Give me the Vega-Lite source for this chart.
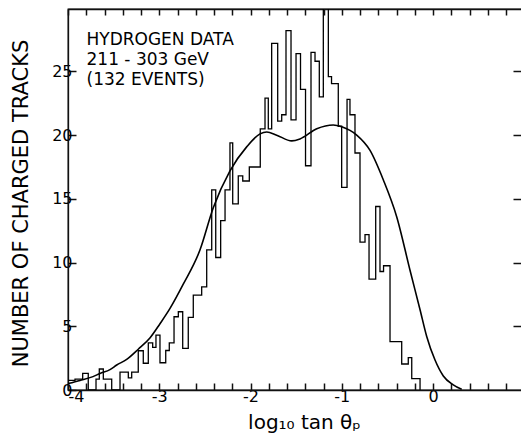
{
  "$schema": "https://vega.github.io/schema/vega-lite/v6.json",
  "width": 454,
  "height": 381,
  "autosize": {"type": "none"},
  "padding": {"left": 68, "top": 9, "right": 0, "bottom": 46},
  "config": {
    "view": {"stroke": "black", "strokeWidth": 1.3},
    "font": "DejaVu Sans",
    "axis": {"grid": false, "labelColor": "black", "titleColor": "black", "domainWidth": 1.3, "tickWidth": 1.5, "labelOverlap": false, "labelFont": "DejaVu Sans", "titleFont": "DejaVu Sans"}
  },
  "datasets": {
    "hist": [
      {"x": -4.0, "n": 0.75}, {"x": -3.923, "n": 0.85}, {"x": -3.839, "n": 1.3}, {"x": -3.778, "n": 0},
      {"x": -3.693, "n": 0.85}, {"x": -3.657, "n": 1.65}, {"x": -3.613, "n": 0.85}, {"x": -3.521, "n": 0},
      {"x": -3.43, "n": 1.4}, {"x": -3.339, "n": 0.95}, {"x": -3.302, "n": 1.4}, {"x": -3.23, "n": 3.08},
      {"x": -3.175, "n": 2.1}, {"x": -3.12, "n": 3.7}, {"x": -3.072, "n": 3.35}, {"x": -3.036, "n": 4.3},
      {"x": -2.992, "n": 2.14}, {"x": -2.929, "n": 3.1}, {"x": -2.89, "n": 3.7}, {"x": -2.838, "n": 5.75},
      {"x": -2.791, "n": 6.14}, {"x": -2.743, "n": 3.27}, {"x": -2.682, "n": 5.7}, {"x": -2.627, "n": 7.45},
      {"x": -2.535, "n": 8.1}, {"x": -2.48, "n": 11.0}, {"x": -2.425, "n": 15.7}, {"x": -2.381, "n": 10.4},
      {"x": -2.327, "n": 13.3}, {"x": -2.279, "n": 15.7}, {"x": -2.225, "n": 19.4}, {"x": -2.195, "n": 14.6},
      {"x": -2.134, "n": 16.8}, {"x": -2.085, "n": 16.4}, {"x": -2.013, "n": 17.5}, {"x": -1.893, "n": 20.5},
      {"x": -1.841, "n": 22.9}, {"x": -1.805, "n": 20.5}, {"x": -1.768, "n": 27.2}, {"x": -1.702, "n": 21.1},
      {"x": -1.658, "n": 21.6}, {"x": -1.611, "n": 28.2}, {"x": -1.556, "n": 21.2}, {"x": -1.501, "n": 26.4},
      {"x": -1.452, "n": 23.6}, {"x": -1.397, "n": 17.6}, {"x": -1.337, "n": 26.5}, {"x": -1.293, "n": 25.8},
      {"x": -1.246, "n": 23.0}, {"x": -1.202, "n": 31}, {"x": -1.147, "n": 24.6}, {"x": -1.112, "n": 24.05},
      {"x": -1.038, "n": 20.7}, {"x": -1.001, "n": 15.9}, {"x": -0.942, "n": 22.8}, {"x": -0.91, "n": 21.6},
      {"x": -0.855, "n": 18.6}, {"x": -0.8, "n": 11.6}, {"x": -0.745, "n": 12.2}, {"x": -0.701, "n": 8.7},
      {"x": -0.628, "n": 14.4}, {"x": -0.581, "n": 9.3}, {"x": -0.542, "n": 9.75}, {"x": -0.471, "n": 3.8},
      {"x": -0.343, "n": 2.04}, {"x": -0.271, "n": 2.54}, {"x": -0.233, "n": 0.9}, {"x": -0.142, "n": 0}
    ],
    "curve": [
      {"x": -4.0, "y": 0.5}, {"x": -3.868, "y": 0.75}, {"x": -3.726, "y": 1.05}, {"x": -3.649, "y": 1.3},
      {"x": -3.54, "y": 1.6}, {"x": -3.466, "y": 1.96}, {"x": -3.357, "y": 2.4}, {"x": -3.23, "y": 3.2},
      {"x": -3.1, "y": 4.1}, {"x": -2.992, "y": 5.2}, {"x": -2.882, "y": 6.4}, {"x": -2.737, "y": 8.3},
      {"x": -2.553, "y": 11.0}, {"x": -2.408, "y": 14.3}, {"x": -2.225, "y": 17.2}, {"x": -2.04, "y": 19.1},
      {"x": -1.896, "y": 20.1}, {"x": -1.822, "y": 20.25}, {"x": -1.713, "y": 20.0}, {"x": -1.548, "y": 19.55},
      {"x": -1.458, "y": 19.7}, {"x": -1.274, "y": 20.5}, {"x": -1.093, "y": 20.8}, {"x": -1.0, "y": 20.65},
      {"x": -0.836, "y": 20.0}, {"x": -0.69, "y": 18.8}, {"x": -0.545, "y": 16.5}, {"x": -0.398, "y": 13.6},
      {"x": -0.252, "y": 9.4}, {"x": -0.142, "y": 6.3}, {"x": -0.069, "y": 4.2}, {"x": 0.022, "y": 2.35},
      {"x": 0.113, "y": 1.1}, {"x": 0.222, "y": 0.4}, {"x": 0.314, "y": 0.05}
    ]
  },
  "layer": [
    {
      "data": {"name": "hist"},
      "mark": {"type": "line", "interpolate": "step-after", "color": "black", "strokeWidth": 1.3, "clip": true},
      "encoding": {
        "x": {"field": "x", "type": "quantitative", "scale": {"domain": [-4, 0.9753], "nice": false, "zero": false},
          "axis": {"orient": "bottom", "values": [-4,-3.8,-3.6,-3.4,-3.2,-3,-2.8,-2.6,-2.4,-2.2,-2,-1.8,-1.6,-1.4,-1.2,-1,-0.8,-0.6,-0.4,-0.2,0,0.2,0.4,0.6,0.8],
            "tickSize": -7, "tickColor": "#111111", "domainColor": "#111111",
            "labelExpr": "datum.value % 1 == 0 ? (datum.value < 0 ? '-' + abs(datum.value) : '' + datum.value) : ''",
            "labelFontSize": 16, "labelPadding": 5,
            "title": "log₁₀ tan θₚ", "titleFontSize": 20, "titleFontWeight": "normal",
            "titleX": 236, "titleY": 32, "titleBaseline": "middle", "titleAlign": "center"}},
        "y": {"field": "n", "type": "quantitative", "scale": {"domain": [0, 29.9], "nice": false},
          "axis": {"orient": "left", "values": [0,5,10,15,20,25], "tickSize": -8, "tickColor": "#111111", "domainColor": "#111111", "labelFontSize": 16, "labelPadding": 4,
            "title": "NUMBER OF CHARGED TRACKS", "titleFontSize": 21, "titleFontWeight": "normal",
            "titleX": -47, "titleY": 194, "titleAngle": -90, "titleBaseline": "middle", "titleAlign": "center"}}
      }
    },
    {
      "data": {"name": "curve"},
      "mark": {"type": "line", "interpolate": "monotone", "color": "black", "strokeWidth": 1.6},
      "encoding": {
        "x": {"field": "x", "type": "quantitative",
          "axis": {"orient": "top", "values": [-4,-3.8,-3.6,-3.4,-3.2,-3,-2.8,-2.6,-2.4,-2.2,-2,-1.8,-1.6,-1.4,-1.2,-1,-0.8,-0.6,-0.4,-0.2,0,0.2,0.4,0.6,0.8],
            "tickSize": -6, "tickColor": "#111111", "domainColor": "#111111", "labels": false,
            "title": ["HYDROGEN DATA", "211 - 303 GeV", "(132 EVENTS)"],
            "titleFontSize": 17, "titleFontWeight": "normal", "titleLineHeight": 20,
            "titleX": 18, "titleY": 22, "titleAlign": "left", "titleBaseline": "top", "titleAnchor": "start", "titleAngle": 0}},
        "y": {"field": "y", "type": "quantitative",
          "axis": {"orient": "right", "values": [5,10,15,20,25], "tickSize": -9, "tickColor": "#111111", "labels": false, "domain": false, "title": null}}
      }
    }
  ],
  "resolve": {"axis": {"x": "independent", "y": "independent"}}
}
